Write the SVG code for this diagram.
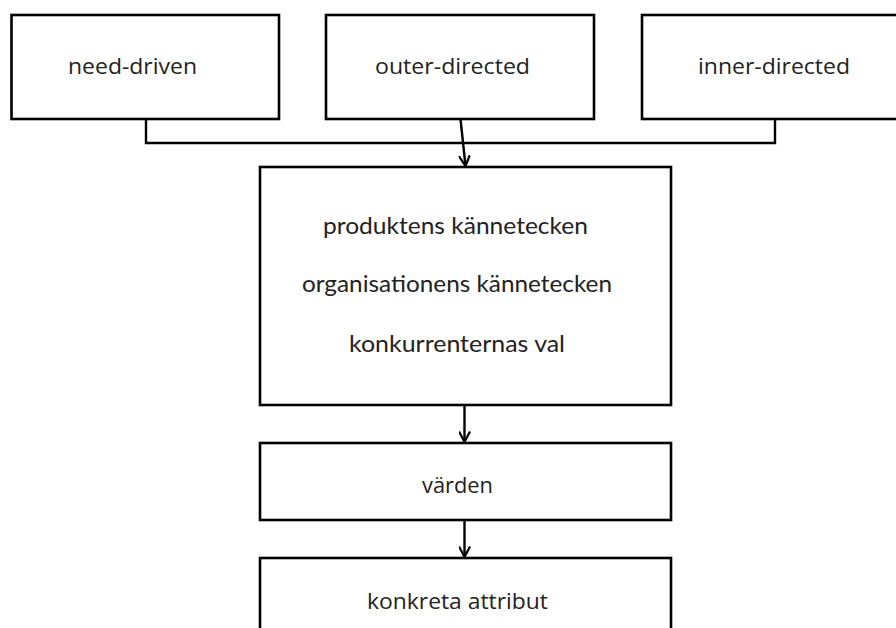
<svg xmlns="http://www.w3.org/2000/svg" width="896" height="628" viewBox="0 0 896 628">
<defs>
<style>
.box{fill:#fff;stroke:#000;stroke-width:2.6}
.t1{font-family:"Open Sans","DejaVu Sans",sans-serif;font-size:22px;fill:#222;text-anchor:middle}
.t2{font-family:Lato,"Open Sans",sans-serif;font-size:24px;fill:#222;text-anchor:middle}
.ln{fill:none;stroke:#000;stroke-width:2.4}
</style>
<marker id="ah" viewBox="0 0 12 12" refX="11" refY="6" markerWidth="12" markerHeight="12" markerUnits="userSpaceOnUse" orient="auto">
<path d="M0.5,0.5 L11,6 L0.5,11.5" fill="none" stroke="#000" stroke-width="2.2"/>
</marker>
</defs>
<rect width="896" height="628" fill="#fff"/>
<g id="need-driven">
<rect class="box" x="11.5" y="15" width="267.5" height="104"/>
<text class="t1" x="132.5" y="74" textLength="129" lengthAdjust="spacingAndGlyphs">need-driven</text>
</g>
<g id="outer-directed">
<rect class="box" x="326" y="15" width="268" height="104"/>
<text class="t1" x="452.5" y="74" textLength="155" lengthAdjust="spacingAndGlyphs">outer-directed</text>
</g>
<g id="inner-directed">
<rect class="box" x="642" y="15" width="268" height="104"/>
<text class="t1" x="774" y="74" textLength="152" lengthAdjust="spacingAndGlyphs">inner-directed</text>
</g>
<g id="kannetecken">
<rect class="box" x="260" y="167" width="411" height="238"/>
<text class="t2" x="455.5" y="234" textLength="265" lengthAdjust="spacingAndGlyphs">produktens kännetecken</text>
<text class="t2" x="457" y="292" textLength="310" lengthAdjust="spacingAndGlyphs">organisationens kännetecken</text>
<text class="t2" x="457" y="351.5" textLength="216" lengthAdjust="spacingAndGlyphs">konkurrenternas val</text>
</g>
<g id="varden">
<rect class="box" x="260" y="443" width="411" height="77"/>
<text class="t1" x="457.5" y="493" textLength="71" lengthAdjust="spacingAndGlyphs">värden</text>
</g>
<g id="konkreta">
<rect class="box" x="260" y="558" width="411" height="100"/>
<text class="t1" x="457.5" y="609" textLength="181" lengthAdjust="spacingAndGlyphs">konkreta attribut</text>
</g>
<g id="connectors">
<polyline class="ln" points="146,119 146,143 775,143 775,119"/>
<line class="ln" x1="460.5" y1="119" x2="465.5" y2="166" marker-end="url(#ah)"/>
<line class="ln" x1="464.5" y1="405" x2="464.5" y2="442" marker-end="url(#ah)"/>
<line class="ln" x1="464.5" y1="520" x2="464.5" y2="557" marker-end="url(#ah)"/>
</g>
</svg>
